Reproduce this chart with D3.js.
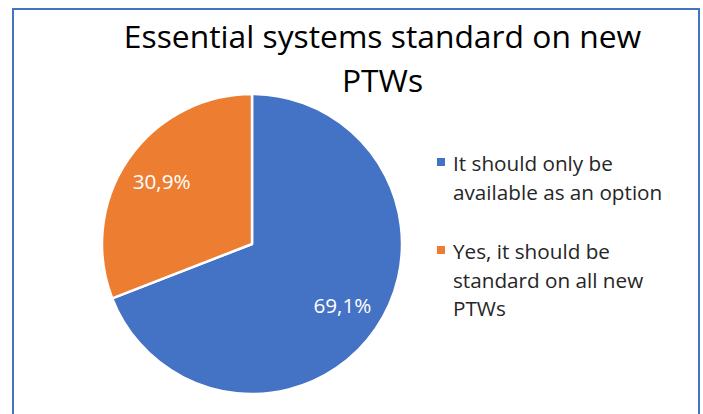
<!DOCTYPE html>
<html>
<head>
<meta charset="utf-8">
<script src="https://cdn.jsdelivr.net/npm/d3@7"></script>
<style>
  html, body { margin: 0; padding: 0; background: #fff; }
  svg { display: block; }
  text { font-family: "Open Sans", "Noto Sans", "Liberation Sans", sans-serif; }
</style>
</head>
<body>
<svg id="chart" width="703" height="414"></svg>
<script>
// Survey answers and their shares (percent)
const categories = ["It should only be available as an option", "Yes, it should be standard on all new PTWs"];
const values = [69.1, 30.9];
const valueLabels = ["69,1%", "30,9%"];
const legendLines = [["It should only be", "available as an option"], ["Yes, it should be", "standard on all new", "PTWs"]];
const colors = ["#4472C4", "#ED7D31"];
const titleLines = ["Essential systems standard on new", "PTWs"];

const svg = d3.select("#chart");

// Chart frame
svg.append("rect")
  .attr("x", 13).attr("y", 9)
  .attr("width", 686).attr("height", 440)
  .attr("fill", "#fff")
  .attr("stroke", "#4472C4")
  .attr("stroke-width", 2);

// Title
svg.append("text")
  .attr("text-anchor", "middle")
  .attr("font-size", 31.8)
  .attr("fill", "#000")
  .selectAll("tspan")
  .data(titleLines)
  .join("tspan")
  .attr("x", 382.5)
  .attr("y", (d, i) => 48 + i * 44)
  .text(d => d);

// Pie
const cx = 252, cy = 244, r = 150;
const pie = d3.pie().sort(null).value(d => d)(values);
const arc = d3.arc().innerRadius(0).outerRadius(r);
const labelArc = d3.arc().innerRadius(r * 0.73).outerRadius(r * 0.73);

const g = svg.append("g").attr("transform", `translate(${cx},${cy})`);
g.selectAll("path")
  .data(pie)
  .join("path")
  .attr("d", arc)
  .attr("fill", (d, i) => colors[i])
  .attr("stroke", "#fff")
  .attr("stroke-width", 2.5)
  .attr("stroke-linejoin", "round");

g.selectAll("text.val")
  .data(pie)
  .join("text")
  .attr("class", "val")
  .attr("transform", d => `translate(${labelArc.centroid(d)})`)
  .attr("text-anchor", "middle")
  .attr("dy", "0.35em")
  .attr("font-size", 20.7)
  .attr("fill", "#fff")
  .text((d, i) => valueLabels[i]);

// Legend
const legendTop = [171, 259];
const legend = svg.append("g");
categories.forEach((c, i) => {
  legend.append("rect")
    .attr("x", 437).attr("y", legendTop[i] - 13)
    .attr("width", 8).attr("height", 8)
    .attr("fill", colors[i]);
  legend.append("text")
    .attr("font-size", 20.7)
    .attr("fill", "#262626")
    .selectAll("tspan")
    .data(legendLines[i])
    .join("tspan")
    .attr("x", 453)
    .attr("y", (d, k) => legendTop[i] + k * 28.7)
    .text(d => d);
});
</script>
</body>
</html>
